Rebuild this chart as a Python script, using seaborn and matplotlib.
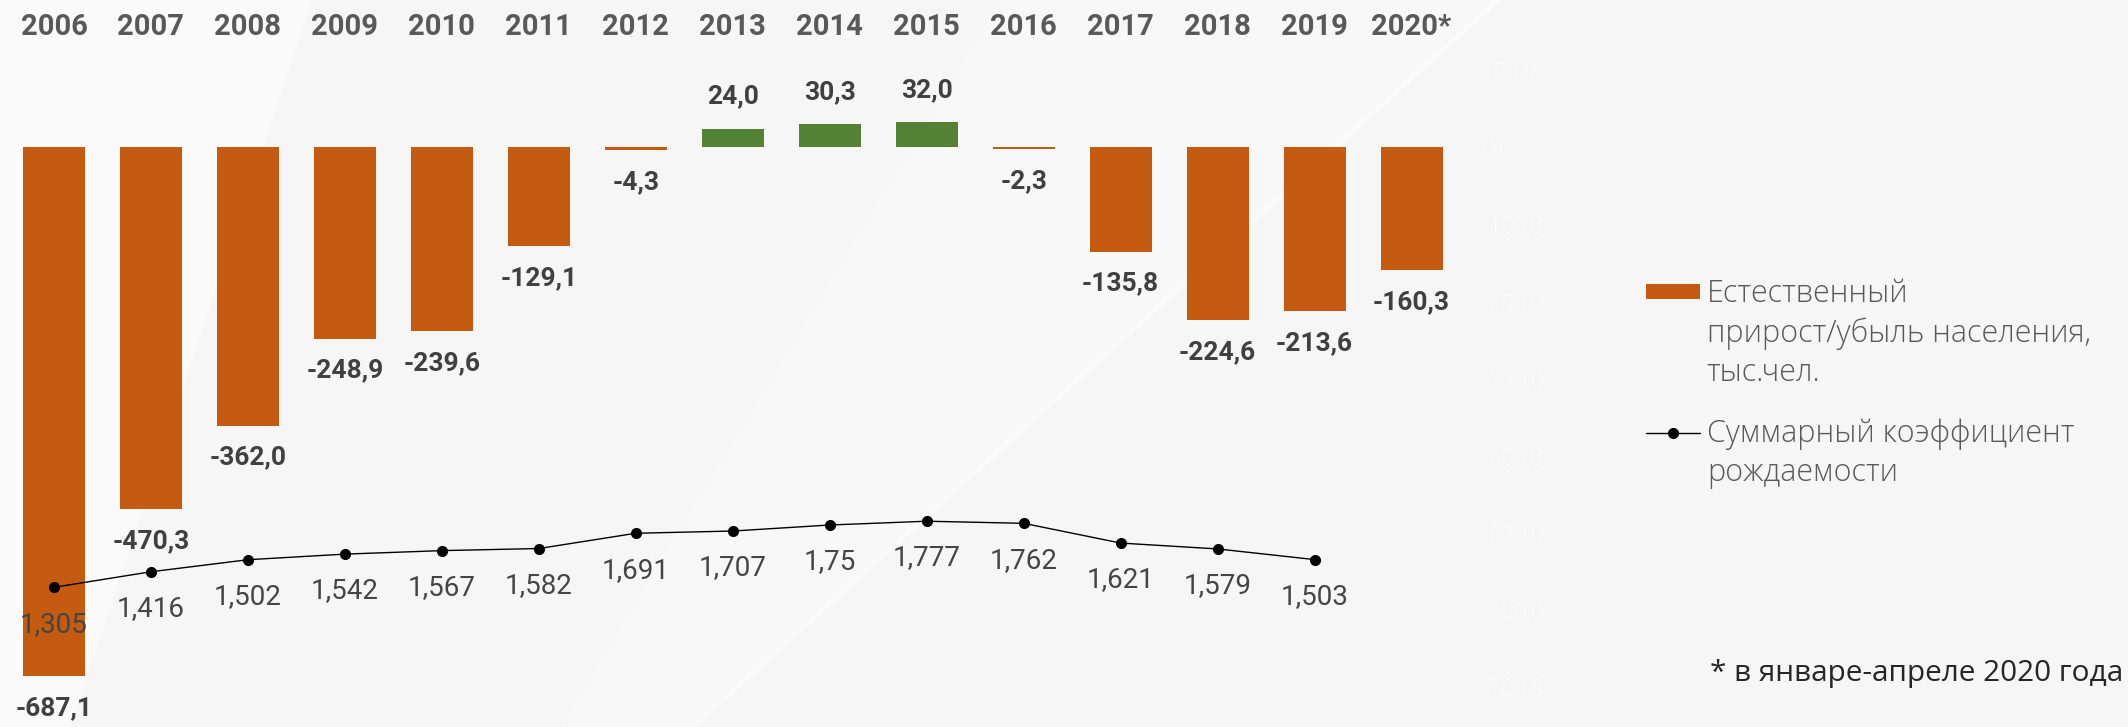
import numpy as np
import pandas as pd
import seaborn as sns
import matplotlib.pyplot as plt
from matplotlib.patches import Patch, Polygon
from matplotlib.lines import Line2D
from matplotlib.ticker import FuncFormatter

# data
years = ['2006', '2007', '2008', '2009', '2010', '2011', '2012', '2013',
         '2014', '2015', '2016', '2017', '2018', '2019', '2020*']
natural_growth = [-687.1, -470.3, -362.0, -248.9, -239.6, -129.1, -4.3, 24.0,
                  30.3, 32.0, -2.3, -135.8, -224.6, -213.6, -160.3]
tfr_years = years[:14]
tfr = [1.305, 1.416, 1.502, 1.542, 1.567, 1.582, 1.691, 1.707,
       1.75, 1.777, 1.762, 1.621, 1.579, 1.503]

legend_bar = ['Естественный', 'прирост/убыль населения,', 'тыс.чел.']
legend_line = ['Суммарный коэффициент', 'рождаемости']
footnote = '* в январе-апреле 2020 года'

ORANGE = '#C55A11'
GREEN = '#548235'
BG = '#f6f6f6'
W, H = 2128, 727


def comma(v, fmt='{:.1f}'):
    return fmt.format(v).replace('.', ',')


def px(x, y):
    return (x / W, 1 - y / H)


sns.set_theme(style='white')
plt.rcParams['font.family'] = ['Roboto', 'DejaVu Sans']

df = pd.DataFrame({'year': years, 'value': natural_growth})
df['sign'] = np.where(df['value'] >= 0, 'pos', 'neg')

fig = plt.figure(figsize=(W / 100, H / 100), dpi=100, facecolor=BG)

# faint white background shapes (decor behind the chart)
for pts, a in [([(0, 0), (312, 0), (70, 727), (0, 727)], 0.55),
               ([(1000, 0), (1500, 0), (690, 727), (560, 727)], 0.3),
               ([(1494, 0), (1502, 0), (697, 727), (689, 727)], 0.45)]:
    fig.patches.append(Polygon([px(*p) for p in pts], closed=True,
                               transform=fig.transFigure, facecolor='white',
                               alpha=a, edgecolor='none', zorder=-5))

ax = fig.add_axes([0.0026, 0.0564, 0.6835, 0.8473])
ax.set_facecolor('none')

sns.barplot(data=df, x='year', y='value', hue='sign',
            palette={'pos': GREEN, 'neg': ORANGE}, width=0.64, saturation=1,
            linewidth=0, legend=False, ax=ax)

ax.set_xlim(-0.5, len(years) - 0.5)
ax.set_ylim(-700, 100)
ax.set_xlabel('')
ax.set_ylabel('')
for s in ax.spines.values():
    s.set_visible(False)

for i, v in enumerate(natural_growth):
    ax.annotate(comma(v), (i, v), xytext=(0, 23 if v > 0 else -23),
                textcoords='offset points', ha='center', va='center',
                fontsize=19, fontweight='bold', color='#404040')

# total fertility rate on a secondary axis
ax2 = ax.twinx()
sns.lineplot(x=np.arange(len(tfr)), y=tfr, color='black', linewidth=1.0,
             marker='o', markersize=8, markeredgewidth=0, ax=ax2)
ax2.set_ylim(0.6, 5.0)
ax2.set_yticks([])
ax2.set_ylabel('')
for s in ax2.spines.values():
    s.set_visible(False)
for i, v in enumerate(tfr):
    ax2.annotate(comma(v, '{}'), (i, v), xytext=(0, -26.5),
                 textcoords='offset points', ha='center', va='center',
                 fontsize=20, fontweight='normal', color='#454545')

# primary value axis sits on the right, almost invisible
ax.set_yticks(np.arange(-700, 101, 100))
ax.yaxis.tick_right()
ax.yaxis.set_major_formatter(FuncFormatter(lambda v, p: comma(v)))
ax.tick_params(axis='y', left=False, right=True, labelleft=False, labelright=True,
               length=0, pad=16, labelsize=16.5, labelcolor='white')
for lbl in ax.get_yticklabels():
    lbl.set_fontweight('light')

ax.xaxis.tick_top()
ax.tick_params(axis='x', length=0, pad=21, labelsize=21, labelcolor='#595959')
for lbl in ax.get_xticklabels():
    lbl.set_fontweight('bold')

# legend, handle aligned with the first line of each label
leg_font = {'family': ['Open Sans', 'DejaVu Sans'], 'size': 22, 'weight': 'light'}
blank = Line2D([], [], linestyle='none')
h1 = [Patch(facecolor=ORANGE, edgecolor='none'), blank, blank]
h2 = [Line2D([], [], color='black', linewidth=1.0, marker='o', markersize=8,
             markeredgewidth=0), blank]
for handles, labels, ytop in [(h1, legend_bar, 0.617), (h2, legend_line, 0.425)]:
    leg = fig.legend(handles, labels, loc='upper left', bbox_to_anchor=(0.7735, ytop),
                     frameon=False, prop=leg_font, handlelength=1.76,
                     handleheight=0.36, handletextpad=0.23, labelspacing=0.23,
                     borderpad=0, borderaxespad=0)
    for t in leg.get_texts():
        t.set_color('#595959')

fig.text(0.998, 1 - 673 / H, footnote, ha='right', va='center',
         fontsize=21.4, color='#262626', family=['Open Sans', 'DejaVu Sans'])

fig.savefig('out.png', dpi=100, facecolor=BG)
